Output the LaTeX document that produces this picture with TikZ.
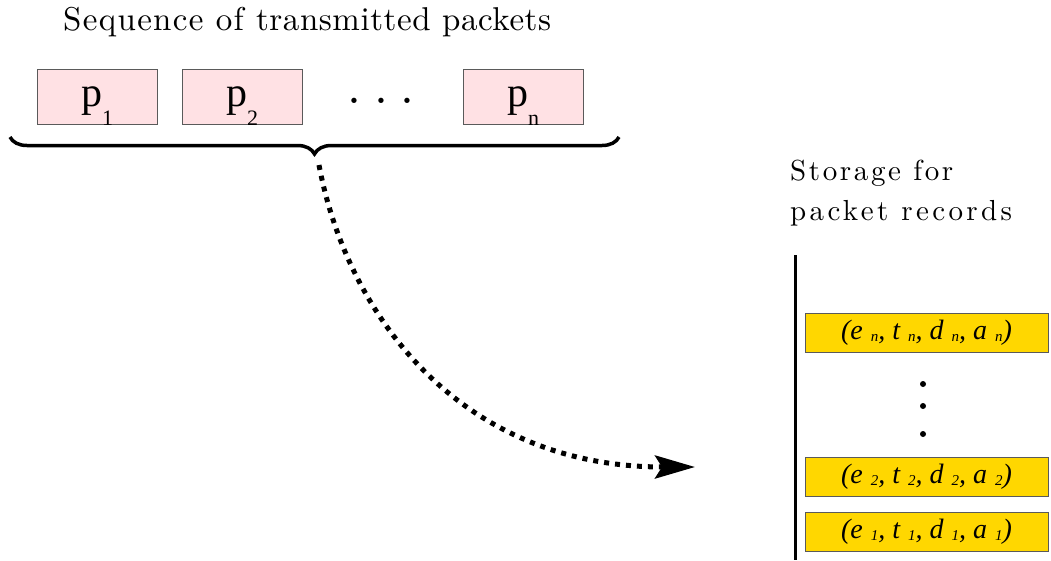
\documentclass[tikz,border=0pt]{standalone}
\usepackage{fontspec}
\newfontfamily\tms{Liberation Serif}
\newfontfamily\lmten{lmroman10-regular.otf}
\newfontfamily\lmtrackA{lmroman10-regular.otf}[LetterSpace=4]
\newfontfamily\lmtrackC{lmroman10-regular.otf}[LetterSpace=1.7]
\newfontfamily\lmtrackB{lmroman10-regular.otf}[LetterSpace=9]
\newfontfamily\lmtrackD{lmroman10-regular.otf}[LetterSpace=11.6]
\usetikzlibrary{arrows.meta,decorations.pathreplacing}
\definecolor{pinkfill}{RGB}{255,225,228}
\definecolor{goldfill}{RGB}{255,215,0}
\definecolor{boxline}{RGB}{90,90,90}
\tikzset{
  pkt/.style={draw=boxline, line width=1, fill=pinkfill, minimum width=120, minimum height=55, inner sep=0, text height=25, text depth=6, font=\tms\fontsize{42}{42}\selectfont},
  rec/.style={draw=boxline, line width=1, fill=goldfill, minimum width=243, minimum height=39, inner sep=0, font=\tms\itshape\fontsize{28}{28}\selectfont},
  lbl/.style={font=\lmten\fontsize{29}{40}\selectfont, inner sep=0},
  vdot/.style={circle, fill=black, minimum size=6, inner sep=0},
}
\newcommand{\psub}[1]{\raisebox{-19pt}{\fontsize{22}{22}\selectfont #1}}
\newcommand{\rsub}[1]{\hspace{8pt}\raisebox{-2pt}{\fontsize{15}{15}\selectfont #1}}
\begin{document}
\begin{tikzpicture}[x=1pt,y=-1pt]
\useasboundingbox (0,0) rectangle (1051,560);
\node[lbl, anchor=base west, font=\lmtrackA\fontsize{33}{40}\selectfont] (title) at (63,30) {Sequence of {\lmtrackC transmitted packets}};
\node[pkt] (p1) at (97,96.5) {p\psub{1}};
\node[pkt] (p2) at (242,96.5) {p\psub{2}};
\node[font=\lmten\fontsize{50}{50}\selectfont, inner sep=0, anchor=base] (pdots) at (381,103.5) {.\hspace{13pt}.\hspace{13pt}.};
\node[pkt] (pn) at (523,96.5) {p\psub{n}};
\coordinate (bl) at (10,137);
\coordinate (br) at (619,137);
\draw[decorate, decoration={brace, amplitude=17, mirror}, line width=3.5] (bl) -- (br);
\coordinate (tip) at (319,165);
\coordinate (end) at (695,467);
\draw[line width=5, dash pattern=on 5 off 6, -{Stealth[length=40,width=23,inset=7]}]
  (tip) .. controls (347,315) and (460,467) .. (end);
\node[lbl, align=left, anchor=north west, font=\lmtrackB\fontsize{29}{40}\selectfont] (storage) at (790,159.6) {Storage for\\{\lmtrackD packet records}};
\coordinate (vtop) at (795,255);
\coordinate (vbot) at (795,560);
\draw[line width=3] (vtop) -- (vbot);
\node[rec] (rn) at (926.5,333) {(e\rsub{n}, t\rsub{n}, d\rsub{n}, a\rsub{n})};
\node[vdot] (d1) at (923,384) {};
\node[vdot] (d2) at (923,406) {};
\node[vdot] (d3) at (923,434) {};
\node[rec] (r2) at (926.5,476.5) {(e\rsub{2}, t\rsub{2}, d\rsub{2}, a\rsub{2})};
\node[rec] (r1) at (926.5,531.5) {(e\rsub{1}, t\rsub{1}, d\rsub{1}, a\rsub{1})};
\end{tikzpicture}
\end{document}
